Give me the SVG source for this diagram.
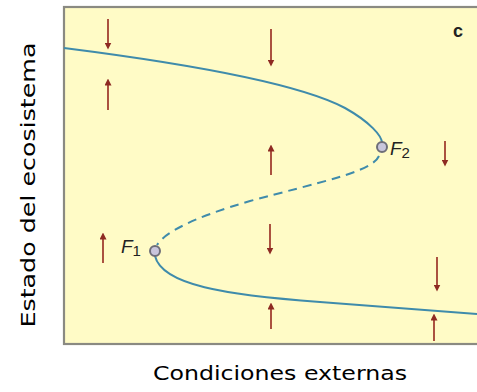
<svg xmlns="http://www.w3.org/2000/svg" width="477" height="392" viewBox="0 0 477 392">
<defs>
<marker id="ah" viewBox="0 0 10 10" refX="5" refY="5" markerWidth="7" markerHeight="7" markerUnits="userSpaceOnUse" orient="auto">
<path d="M0,0 L10,5 L0,10 Z" fill="#8e2a22"/>
</marker>
</defs>
<style>
.frame{fill:#fffbc6;stroke:#8a8a82;stroke-width:2.2}
.curve{fill:none;stroke:#3f8bab;stroke-width:2}
.dash{stroke-dasharray:9,6}
.arr{stroke:#9c3329;stroke-width:1.7;marker-end:url(#ah)}
.pt{fill:#c9c6dc;stroke:#6e6e78;stroke-width:2}
.lbl{font-family:"DejaVu Sans",Verdana,sans-serif;fill:#000;font-size:20px}
.f{font-family:"Liberation Sans",Arial,sans-serif;font-style:italic;fill:#222}
</style>
<rect class="frame" x="64" y="7" width="420" height="337"/>
<g id="connectors">
<path class="curve" d="M64,48 C190,64 300,84 345,108 C370,122 382,136 382,143"/>
<path class="curve dash" d="M379,156 C372,172 320,182 250,201 C195,217 165,232 157,245"/>
<path class="curve" d="M155,256 C162,285 225,295 320,302 C400,308 440,311 477,314"/>
<line class="arr" x1="108" y1="19" x2="108" y2="46"/>
<line class="arr" x1="271" y1="29" x2="271" y2="63"/>
<line class="arr" x1="108" y1="110" x2="108" y2="82"/>
<line class="arr" x1="271" y1="175" x2="271" y2="148"/>
<line class="arr" x1="445" y1="141" x2="445" y2="163"/>
<line class="arr" x1="103" y1="263" x2="103" y2="236"/>
<line class="arr" x1="270" y1="224" x2="270" y2="251"/>
<line class="arr" x1="437" y1="257" x2="437" y2="288"/>
<line class="arr" x1="271" y1="329" x2="271" y2="306"/>
<line class="arr" x1="434" y1="341" x2="434" y2="317"/>
</g>
<g id="F2">
<circle class="pt" cx="382" cy="147" r="5"/>
<text class="f" x="390" y="155" font-size="19">F<tspan font-style="normal" font-size="15" dy="3">2</tspan></text>
</g>
<g id="F1">
<circle class="pt" cx="155" cy="251" r="5"/>
<text class="f" x="121" y="253" font-size="19">F<tspan font-style="normal" font-size="15" dy="3">1</tspan></text>
</g>
<g id="panel-label">
<text x="458" y="37" text-anchor="middle" font-family="'Liberation Sans',Arial,sans-serif" font-weight="bold" font-size="18" fill="#222">c</text>
</g>
<g id="axes">
<text class="lbl" x="280" y="380" text-anchor="middle" textLength="254" lengthAdjust="spacingAndGlyphs">Condiciones externas</text>
<text class="lbl" transform="translate(35,185) rotate(-90)" x="0" y="0" text-anchor="middle" textLength="285" lengthAdjust="spacingAndGlyphs">Estado del ecosistema</text>
</g>
</svg>
